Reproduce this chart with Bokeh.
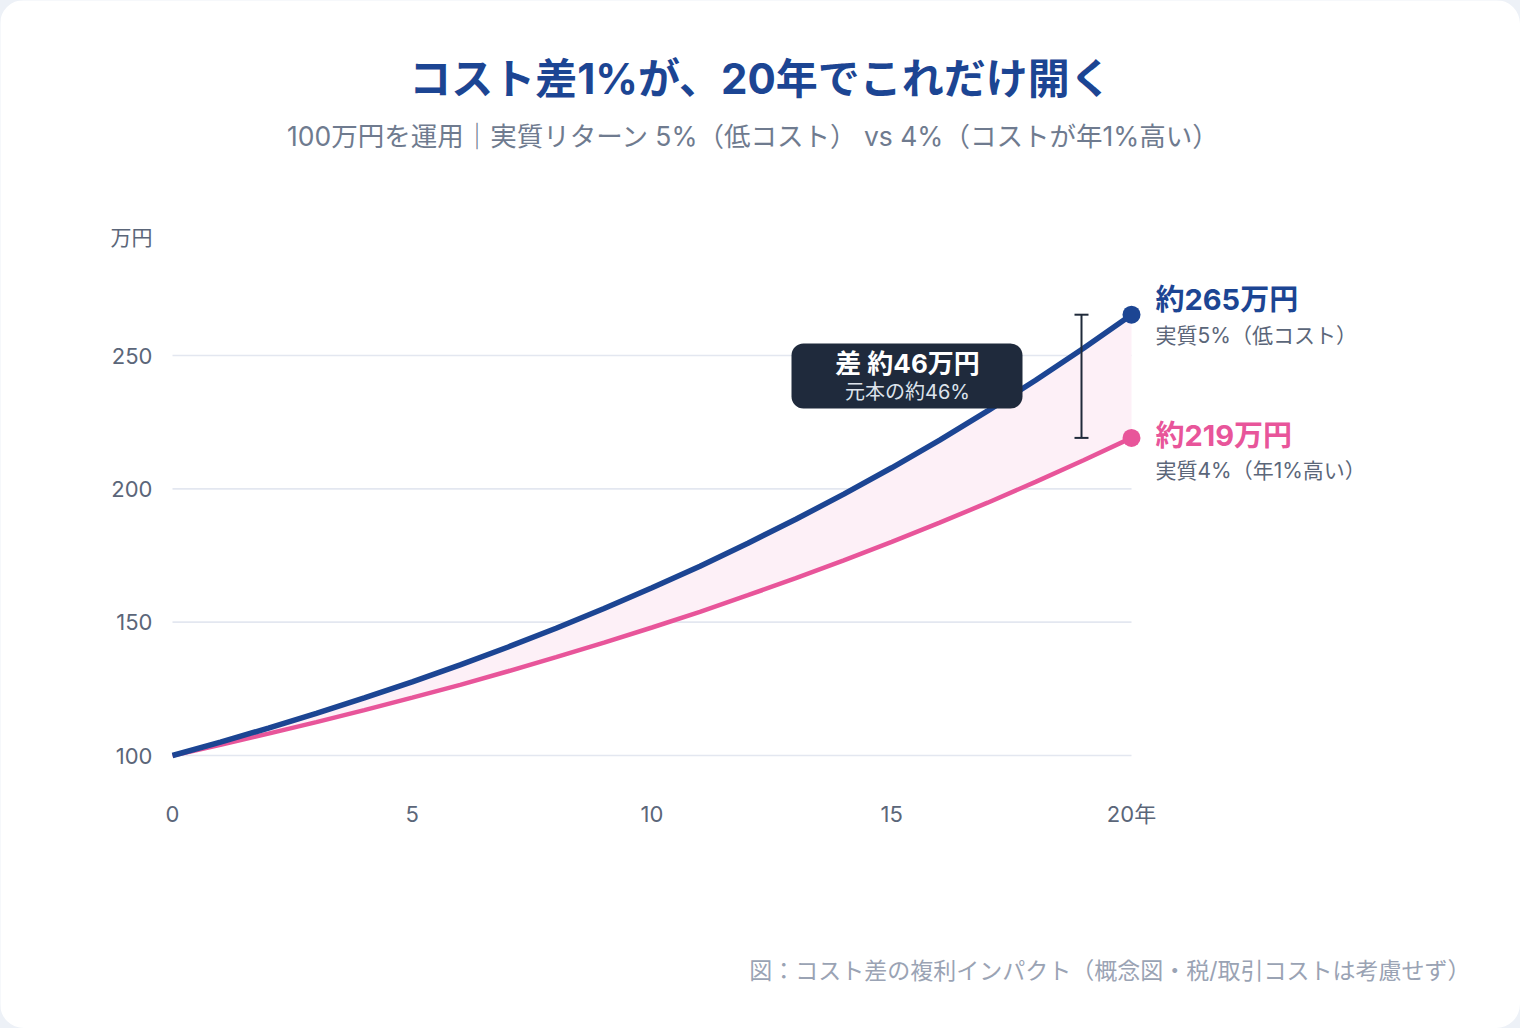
from bokeh.plotting import figure
from bokeh.models import Label, BoxAnnotation, Range1d
from bokeh.core.properties import value
from bokeh.layouts import column
from bokeh.embed import file_html
from bokeh.resources import INLINE

# Value of 1,000,000 yen (in 万円) over 20 years
years = list(range(0, 21))
low_cost = [100.0, 105.0, 110.3, 115.8, 121.6, 127.6, 134.0, 140.7, 147.7, 155.1,
            162.9, 171.0, 179.6, 188.6, 198.0, 207.9, 218.3, 229.2, 240.7, 252.7, 265.3]
high_cost = [100.0, 104.0, 108.2, 112.5, 117.0, 121.7, 126.5, 131.6, 136.9, 142.3,
             148.0, 153.9, 160.1, 166.5, 173.2, 180.1, 187.3, 194.8, 202.6, 210.7, 219.1]
y_ticks = [100, 150, 200, 250]
x_ticks = [0, 5, 10, 15, 20]
x_tick_labels = ["0", "5", "10", "15", "20年"]

FONT = "Inter, Noto Sans CJK JP"
BLUE = "#1c4593"
PINK = "#e8559a"
GRAY_TXT = "#5b6679"

# Canvas geometry: x=0 -> px 172, x=20 -> px 1131; y=100 -> py 755, y=250 -> py 355
PX_PER_X = (1131 - 172) / 20
PX_PER_Y = (755 - 355) / 150


def X(px):
    return (px - 172) / PX_PER_X


def Y(py):
    return 100 + (755 - py) / PX_PER_Y


p = figure(width=1520, height=1028, output_backend="svg", toolbar_location=None,
           x_range=Range1d(X(0), X(1520)), y_range=Range1d(Y(1028), Y(0)),
           min_border=0, x_axis_type=None, y_axis_type=None)
p.outline_line_color = None
p.border_fill_color = "white"
p.background_fill_color = "white"
p.grid.visible = False

# gridlines limited to the 0-20 span
p.segment(x0=[years[0]] * len(y_ticks), x1=[years[-1]] * len(y_ticks),
          y0=y_ticks, y1=y_ticks, line_color="#e3e7f0", line_width=1.6)

# tick labels
p.text(x=[X(152)] * len(y_ticks), y=y_ticks, text=[str(t) for t in y_ticks],
       text_font=value(FONT), text_font_size="22px", text_color=GRAY_TXT,
       text_align="right", text_baseline="middle")
p.text(x=x_ticks, y=[Y(813)] * len(x_ticks), text=x_tick_labels,
       text_font=value(FONT), text_font_size="22px", text_color=GRAY_TXT,
       text_align="center", text_baseline="middle")

# gap between the two paths
p.varea(x=years, y1=high_cost, y2=low_cost, fill_color="#fdf0f7")

p.line(years, high_cost, line_color=PINK, line_width=4.5)
p.line(years, low_cost, line_color=BLUE, line_width=5.5)
p.scatter([years[-1]], [low_cost[-1]], size=18, fill_color=BLUE, line_color=None)
p.scatter([years[-1]], [high_cost[-1]], size=18, fill_color=PINK, line_color=None)

# bracket showing the gap at the end
bx = X(1081)
p.segment(x0=[bx], x1=[bx], y0=[high_cost[-1]], y1=[low_cost[-1]],
          line_color="#1f2a3a", line_width=2)
p.scatter([bx, bx], [high_cost[-1], low_cost[-1]], marker="dash", size=14,
          line_color="#1f2a3a", line_width=2)

# callout box
p.add_layout(BoxAnnotation(left=X(791), right=X(1022), top=Y(343), bottom=Y(408),
                           fill_color="#1f2a3c", fill_alpha=1.0, line_color=None,
                           border_radius=12, level="overlay"))


def label(px, py, text, size, color, align="left", bold=False):
    p.add_layout(Label(x=X(px), y=Y(py), text=text, text_font=FONT,
                       text_font_size=f"{size}px", text_color=color,
                       text_align=align, text_baseline="middle",
                       text_font_style="bold" if bold else "normal",
                       level="overlay"))


gap = round(low_cost[-1] - high_cost[-1])
label(907, 363, f"差 約{gap}万円", 26, "white", "center", True)
label(907, 391, f"元本の約{gap}%", 20, "#dde3ec", "center")

# end labels
label(1155, 299, f"約{round(low_cost[-1])}万円", 29, BLUE, bold=True)
label(1155, 335, "実質5%（低コスト）", 21, GRAY_TXT)
label(1155, 435, f"約{round(high_cost[-1])}万円", 29, PINK, bold=True)
label(1155, 470, "実質4%（年1%高い）", 21, GRAY_TXT)

# unit
label(152, 237, "万円", 21, GRAY_TXT, "right")

# headings
label(760, 78, "コスト差1%が、20年でこれだけ開く", 42, BLUE, "center", True)
label(753, 135, "100万円を運用｜実質リターン 5%（低コスト） vs 4%（コストが年1%高い）",
      26.5, "#6f7b8f", "center")

# footnote
label(1470, 970, "図：コスト差の複利インパクト（概念図・税/取引コストは考慮せず）",
      23, "#9aa3b4", "right")

p.styles = {"border-radius": "24px", "overflow": "hidden"}
page = column(p, styles={"background-color": "#edf1f7"})

open("out.html", "w").write(file_html(page, INLINE))
